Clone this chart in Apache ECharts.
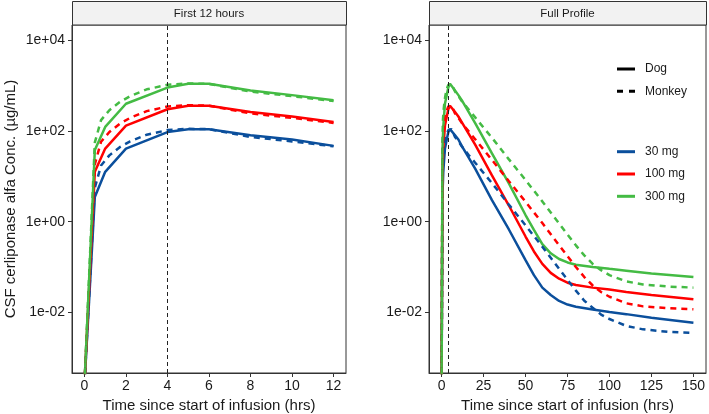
<!DOCTYPE html>
<html>
<head>
<meta charset="utf-8">
<script src="https://cdn.jsdelivr.net/npm/echarts@6.0.0/dist/echarts.min.js"></script>
<style>
  html, body { margin: 0; padding: 0; background: #fff; }
  #chart { width: 709px; height: 414px; }
</style>
</head>
<body>
<div id="chart"></div>
<script>
// time grids (hrs)
const dogTime = [0, 0.5, 1, 2, 4, 5, 6, 8, 10, 12, 20, 30, 40, 50, 55, 60, 65, 70, 75, 80, 90, 100, 110, 125, 150];
const monkeyTime = [0, 0.5, 0.8, 1.2, 1.7, 2.2, 3, 4, 5, 6, 8, 10, 12, 16, 20, 30, 40, 50, 60, 70, 75, 80, 85, 90, 95, 100, 110, 120, 135, 150];

// CSF concentrations (ug/mL)
const dog30 = [0.00025, 3.5, 12.6, 41, 95, 110, 110, 81, 65, 47, 14.8, 3.0, 0.68, 0.141, 0.066, 0.035, 0.024, 0.0178, 0.0148, 0.0132, 0.0115, 0.0102, 0.0091, 0.0076, 0.0059];
const dog100 = [0.00025, 12.6, 41, 132, 302, 363, 363, 263, 209, 158, 50, 10.5, 2.3, 0.47, 0.22, 0.117, 0.074, 0.055, 0.045, 0.040, 0.035, 0.032, 0.028, 0.024, 0.0195];
const dog300 = [0.00025, 38, 123, 400, 910, 1100, 1100, 780, 620, 480, 150, 32, 7.1, 1.4, 0.66, 0.32, 0.20, 0.15, 0.126, 0.112, 0.100, 0.091, 0.083, 0.072, 0.060];
const monkey30 = [0.00025, 5.6, 17.4, 29, 44, 59, 83, 105, 112, 110, 74, 59, 46, 30, 20, 7.1, 2.4, 0.83, 0.28, 0.091, 0.052, 0.030, 0.018, 0.0126, 0.0089, 0.0071, 0.0050, 0.0042, 0.0037, 0.0035];
const monkey100 = [0.00025, 18.6, 58, 95, 145, 195, 275, 347, 372, 363, 245, 195, 151, 100, 66, 23, 7.9, 2.75, 0.93, 0.30, 0.174, 0.100, 0.060, 0.039, 0.028, 0.022, 0.0158, 0.0135, 0.0123, 0.0117];
const monkey300 = [0.00025, 56, 174, 288, 437, 589, 832, 1047, 1122, 1096, 741, 589, 457, 302, 200, 71, 24, 8.3, 2.8, 0.91, 0.52, 0.30, 0.18, 0.117, 0.085, 0.066, 0.048, 0.041, 0.037, 0.035];

const doseLabels = ['30 mg', '100 mg', '300 mg'];
const speciesLabels = ['Dog', 'Monkey'];
const panelTitles = ['First 12 hours', 'Full Profile'];
const panelMaxTime = [12, 150];
const infusionEnd = 4;

const yTicks = [1e-2, 1, 1e2, 1e4];
const xTicksLeft = [0, 2, 4, 6, 8, 10, 12];
const xTicksRight = [0, 25, 50, 75, 100, 125, 150];

const doseColors = ['#0B4F9C', '#FF0000', '#44BB44'];
const FONT = 'Liberation Sans';
const TXT = '#1a1a1a';

function toPoints(times, values, maxT) {
    const pts = [];
    for (let i = 0; i < times.length; i++) {
        if (times[i] <= maxT) pts.push([times[i], Math.log10(values[i])]);
    }
    return pts;
}

function yLabel(v) {
    const e = Math.round(v);
    const a = Math.abs(e);
    return '1e' + (e < 0 ? '-' : '+') + (a < 10 ? '0' : '') + a;
}

const chart = echarts.init(document.getElementById('chart'), null, { renderer: 'canvas' });

const grids = [
    { left: 72, top: 25, width: 274, height: 348 },
    { left: 429, top: 25, width: 277, height: 348 }
];

const xAxes = [0, 1].map(function (p) {
    const ticks = p === 0 ? xTicksLeft : xTicksRight;
    const span = panelMaxTime[p];
    return {
        type: 'value',
        gridIndex: p,
        min: -0.05 * span,
        max: 1.05 * span,
        axisLine: { show: true, onZero: false, lineStyle: { color: '#333', width: 1 } },
        axisTick: { show: true, length: 4, customValues: ticks, lineStyle: { color: '#333' } },
        axisLabel: { customValues: ticks, color: TXT, fontSize: 14, fontFamily: FONT, margin: 6 },
        splitLine: { show: false },
        name: 'Time since start of infusion (hrs)',
        nameLocation: 'middle',
        nameGap: 23,
        nameTextStyle: { color: TXT, fontSize: 15, fontFamily: FONT }
    };
});

const yTickExp = yTicks.map(function (v) { return Math.log10(v); });
const yAxes = [0, 1].map(function (p) {
    return {
        type: 'value',
        gridIndex: p,
        min: -3.34,
        max: 4.34,
        axisLine: { show: true, onZero: false, lineStyle: { color: '#333', width: 1 } },
        axisTick: { show: true, length: 4, customValues: yTickExp, lineStyle: { color: '#333' } },
        axisLabel: { customValues: yTickExp, color: TXT, fontSize: 14, fontFamily: FONT, margin: 7, formatter: yLabel },
        splitLine: { show: false },
        name: p === 0 ? 'CSF cerliponase alfa Conc. (µg/mL)' : '',
        nameLocation: 'middle',
        nameGap: 54,
        nameTextStyle: { color: TXT, fontSize: 15, fontFamily: FONT }
    };
});

const series = [];
const dogData = [dog30, dog100, dog300];
const monkeyData = [monkey30, monkey100, monkey300];

[0, 1].forEach(function (p) {
    // Dog = solid, Monkey = dashed (drawn on top)
    [0, 1].forEach(function (s) {
        for (let d = 0; d < 3; d++) {
            const times = s === 0 ? dogTime : monkeyTime;
            const vals = s === 0 ? dogData[d] : monkeyData[d];
            const item = {
                name: speciesLabels[s] + ' ' + doseLabels[d] + ' ' + p,
                type: 'line',
                xAxisIndex: p,
                yAxisIndex: p,
                data: toPoints(times, vals, panelMaxTime[p]),
                symbol: 'none',
                showSymbol: false,
                clip: true,
                lineStyle: { color: doseColors[d], width: 2.5, type: s === 0 ? 'solid' : [6, 5] },
                itemStyle: { color: doseColors[d] }
            };
            if (s === 0 && d === 0) {
                item.markLine = {
                    silent: true,
                    symbol: 'none',
                    label: { show: false },
                    lineStyle: { color: '#222', width: 1, type: [4, 3] },
                    data: [{ xAxis: infusionEnd }]
                };
            }
            series.push(item);
        }
    });
});

// legend-only entries
series.push({ name: 'Dog', type: 'line', xAxisIndex: 1, yAxisIndex: 1, data: [], symbol: 'none',
    lineStyle: { color: '#000', width: 3 }, itemStyle: { color: '#000' } });
series.push({ name: 'Monkey', type: 'line', xAxisIndex: 1, yAxisIndex: 1, data: [], symbol: 'none',
    lineStyle: { color: '#000', width: 3, type: [6, 6] }, itemStyle: { color: '#000' } });
doseLabels.forEach(function (lab, d) {
    series.push({ name: lab, type: 'line', xAxisIndex: 1, yAxisIndex: 1, data: [], symbol: 'none',
        lineStyle: { color: doseColors[d], width: 3 }, itemStyle: { color: doseColors[d] } });
});

const solidKey = 'path://M0,0h18v3h-18z';
const dashKey = 'path://M0,0h6v3h-6zM12,0h6v3h-6z';

const legendCommon = {
    orient: 'vertical',
    left: 617,
    padding: 0,
    itemWidth: 18,
    itemHeight: 3,
    itemGap: 10.3,
    selectedMode: false,
    textStyle: { color: TXT, fontSize: 12, fontFamily: FONT, padding: [0, 0, 0, 5] }
};

const graphic = [];
[0, 1].forEach(function (p) {
    const g = grids[p];
    graphic.push({
        type: 'rect',
        shape: { x: g.left + 0.5, y: 1.5, width: g.width, height: g.top - 1.5 },
        style: { fill: '#F2F2F2', stroke: '#333', lineWidth: 1 }
    });
    graphic.push({
        type: 'text',
        x: g.left + g.width / 2,
        y: 13.5,
        style: { text: panelTitles[p], fill: TXT, fontSize: 11.5, fontFamily: FONT, align: 'center', verticalAlign: 'middle' }
    });
});

chart.setOption({
    animation: false,
    backgroundColor: '#fff',
    grid: grids.map(function (g) {
        return Object.assign({ show: true, borderColor: '#333', borderWidth: 1, backgroundColor: 'transparent', outerBoundsMode: 'none' }, g);
    }),
    xAxis: xAxes,
    yAxis: yAxes,
    legend: [
        Object.assign({ data: [{ name: 'Dog', icon: solidKey }, { name: 'Monkey', icon: dashKey }], top: 63 }, legendCommon),
        Object.assign({ data: doseLabels.map(function (n) { return { name: n, icon: solidKey }; }), top: 145.7 }, legendCommon)
    ],
    graphic: graphic,
    series: series
});
</script>
</body>
</html>
